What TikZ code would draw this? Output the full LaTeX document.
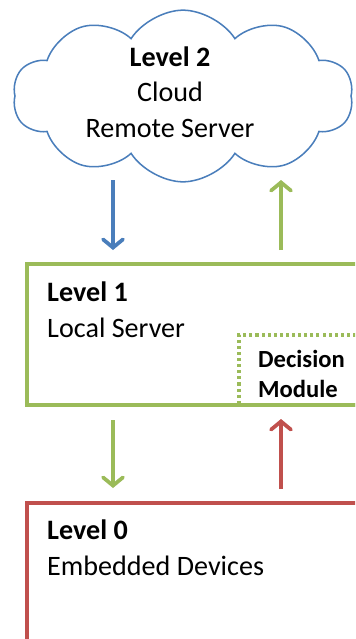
\documentclass[tikz,border=0pt]{standalone}
\usepackage{fontspec}
\setmainfont{Carlito}
\usetikzlibrary{arrows.meta,positioning,shapes.symbols}
\definecolor{cloudblue}{HTML}{4A7EBB}
\definecolor{localgreen}{HTML}{9BBB59}
\definecolor{devicered}{HTML}{C0504D}

\begin{document}
\begin{tikzpicture}[
    x=0.03cm, y=-0.03cm,
    level/.style={rectangle, draw=#1, line width=3.2pt, anchor=north west,
                  outer sep=0pt, inner sep=0pt, minimum width=12cm},
    title/.style={anchor=base west, align=left, inner sep=0pt,
                  font=\fontsize{24}{30}\selectfont},
    arrow/.style={-{Straight Barb[length=7pt, width=17pt, line cap=round]},
                  line width=3.2pt, #1},
]
    \useasboundingbox (0,0) rectangle (355,639);
    \clip (0,0) rectangle (355,639);

    % Cloud on top
    \node[cloud, cloud puffs=10, cloud puff arc=115, aspect=2.1, draw=cloudblue,
          line width=1.3pt, minimum width=10.2cm, minimum height=5.15cm] (cloud) at (183,96) {};
    \node[title, anchor=base, align=center] (ltwo) at (170,137)
        {\textbf{Level 2}\\Cloud\\Remote Server};

    % Level 1 with its decision module
    \node[level=localgreen, line width=3pt, dash pattern=on 2.6pt off 2.6pt,
          minimum width=5cm, minimum height=2.1cm] (decision) at (239,335) {};
    \node[level=localgreen, minimum height=4.23cm] (lone) at (27,264) {};
    \node[title] (lonetext) at ([shift={(20,73)}]lone.north west)
        {\textbf{Level 1}\\Local Server};
    \node[title, font=\fontsize{21}{25.5}\selectfont\bfseries] (dectext)
        at ([shift={(19,62)}]decision.north west) {Decision\\Module};

    % Level 0
    \node[level=devicered, minimum height=6cm] (lzero) at (27,503) {};
    \node[title] (lzerotext) at ([shift={(20,72)}]lzero.north west)
        {\textbf{Level 0}\\Embedded Devices};

    % Arrows
    \draw[arrow=cloudblue] ([shift={(86,-84)}]lone.north west) -- ([shift={(86,-14)}]lone.north west);
    \draw[arrow=localgreen] ([shift={(254,-14)}]lone.north west) -- ([shift={(254,-84)}]lone.north west);
    \draw[arrow=localgreen] ([shift={(86,15)}]lone.south west) -- ([shift={(86,83)}]lone.south west);
    \draw[arrow=devicered] ([shift={(254,-14)}]lzero.north west) -- ([shift={(254,-84)}]lzero.north west);
\end{tikzpicture}
\end{document}
